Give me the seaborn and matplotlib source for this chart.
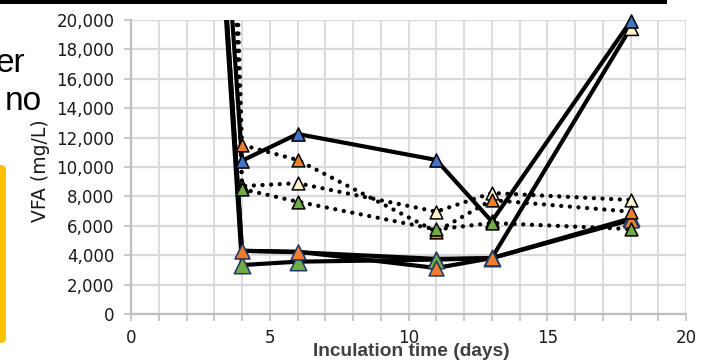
import matplotlib
matplotlib.use("Agg")
import matplotlib.pyplot as plt
import matplotlib.transforms as mtransforms
from matplotlib.patches import FancyBboxPatch, Rectangle
from matplotlib import font_manager
import seaborn as sns

# ---- data ----
days = [0, 4, 6, 11, 13, 18]
solid_blue = [120000, 10430, 12245, 10480, 6300, 19900]
solid_cream = [120000, 4300, 4200, 3750, 3800, 19450]
solid_green = [120000, 3330, 3560, 3700, 3800, 6500]
solid_orange = [120000, 4300, 4240, 3130, 3800, 6390]
dotted_cream = [250000, 8700, 8900, 6960, 8230, 7755]
dotted_orange = [250000, 11500, 10480, 5600, 7750, 6960]
dotted_green = [250000, 8500, 7640, 5750, 6190, 5780]

x_tick_labels = ["0", "5", "10", "15", "20"]
x_ticks = [0, 5, 10, 15, 20]
y_ticks = [0, 2000, 4000, 6000, 8000, 10000, 12000, 14000, 16000, 18000, 20000]

BLUE, ORANGE, CREAM, GREEN = "#4472C4", "#ED7D31", "#FFF2CC", "#70AD47"
NAVY = "#1F3864"

sns.set_theme(style="white")
plt.rcParams["font.family"] = ["DejaVu Sans"]

names = {f.name for f in font_manager.fontManager.ttflist}
if "Liberation Sans Narrow" in names:
    xl_family, xl_size = "Liberation Sans Narrow", 16.5
elif "DejaVu Sans Condensed" in names:
    xl_family, xl_size = "DejaVu Sans Condensed", 12.5
else:
    xl_family, xl_size = "Liberation Sans", 13.8

W, H = 708, 364
fig = plt.figure(figsize=(W / 100, H / 100), dpi=100)
fig.patch.set_facecolor("white")
ax = fig.add_axes([131 / W, 50 / H, 555 / W, 294 / H])

# ---- lines ----
for vals in [solid_cream, solid_green, solid_orange, solid_blue]:
    sns.lineplot(x=days, y=vals, ax=ax, color="black", lw=3.0,
                 estimator=None, sort=False, zorder=3)
for vals in [dotted_cream, dotted_orange, dotted_green]:
    sns.lineplot(x=days, y=vals, ax=ax, color="black", lw=3.1,
                 linestyle=(0, (0.01, 2.0)), dash_capstyle="round",
                 estimator=None, sort=False, zorder=3)

# ---- markers ----
def marks(vals, fill, edge, size, z):
    xs = [d for d, v in zip(days, vals) if v <= 20000]
    ys = [v for v in vals if v <= 20000]
    sns.scatterplot(x=xs, y=ys, ax=ax, marker="^", s=size, color=fill,
                    edgecolor=edge, linewidth=1.1, zorder=z, clip_on=False,
                    legend=False)

marks(solid_cream, CREAM, "black", 100, 5)
marks(solid_blue, BLUE, "black", 90, 6)
marks(solid_green, GREEN, NAVY, 140, 7)
marks(solid_orange, ORANGE, NAVY, 115, 8)
marks(dotted_cream, CREAM, "black", 85, 9)
marks(dotted_orange, ORANGE, "black", 85, 10)
marks(dotted_green, GREEN, "black", 85, 11)

# ---- axes styling ----
ax.set_xlim(0, 20)
ax.set_ylim(0, 20000)
ax.set_xticks(x_ticks)
ax.set_xticklabels(x_tick_labels)
ax.set_xticks(range(0, 21), minor=True)
ax.set_yticks(y_ticks)
ax.set_yticklabels([f"{v:,}" for v in y_ticks])
ax.set_axisbelow(True)
ax.grid(which="both", axis="x", color="#D9D9D9", lw=1.3)
ax.grid(which="major", axis="y", color="#D9D9D9", lw=1.6)
for s in ["top", "right"]:
    ax.spines[s].set_visible(False)
for s in ["left", "bottom"]:
    ax.spines[s].set_color("#BFBFBF")
    ax.spines[s].set_linewidth(1.6)
ax.tick_params(axis="both", which="both", bottom=True, left=True,
               direction="out", color="#BFBFBF", width=1.2, length=5)
ax.tick_params(axis="x", which="major", pad=6, labelsize=12, labelcolor="#1a1a1a")
ax.tick_params(axis="y", which="major", pad=7, labelsize=12, labelcolor="#1a1a1a")
ax.set_xlabel("")
ax.set_ylabel("")

fig.text(41 / W, 1 - 171 / H, "VFA (mg/L)", rotation=90, ha="center",
         va="center", fontsize=13.5, color="#1a1a1a")
fig.text(411 / W, 1 - 351 / H, "Inculation time (days)", ha="center",
         va="center", fontsize=xl_size, fontweight="bold", color="#404040",
         family=xl_family)

# ---- surrounding slide fragments ----
fig.text(25 / W, 1 - 72 / H, "er", ha="right", va="baseline", fontsize=24,
         family="Liberation Sans", color="black")
fig.text(42 / W, 1 - 110 / H, "no", ha="right", va="baseline", fontsize=24,
         family="Liberation Sans", color="black")
ident = mtransforms.IdentityTransform()
fig.patches.append(FancyBboxPatch((-12, H - 343), 18, 178,
                                  boxstyle="round,pad=0,rounding_size=5",
                                  transform=ident, facecolor="#FFC000",
                                  edgecolor="none", figure=fig))
fig.patches.append(Rectangle((0, H - 3.5), 667, 3.5, transform=ident,
                             facecolor="black", edgecolor="none", figure=fig))

fig.savefig("out.png", dpi=100)
